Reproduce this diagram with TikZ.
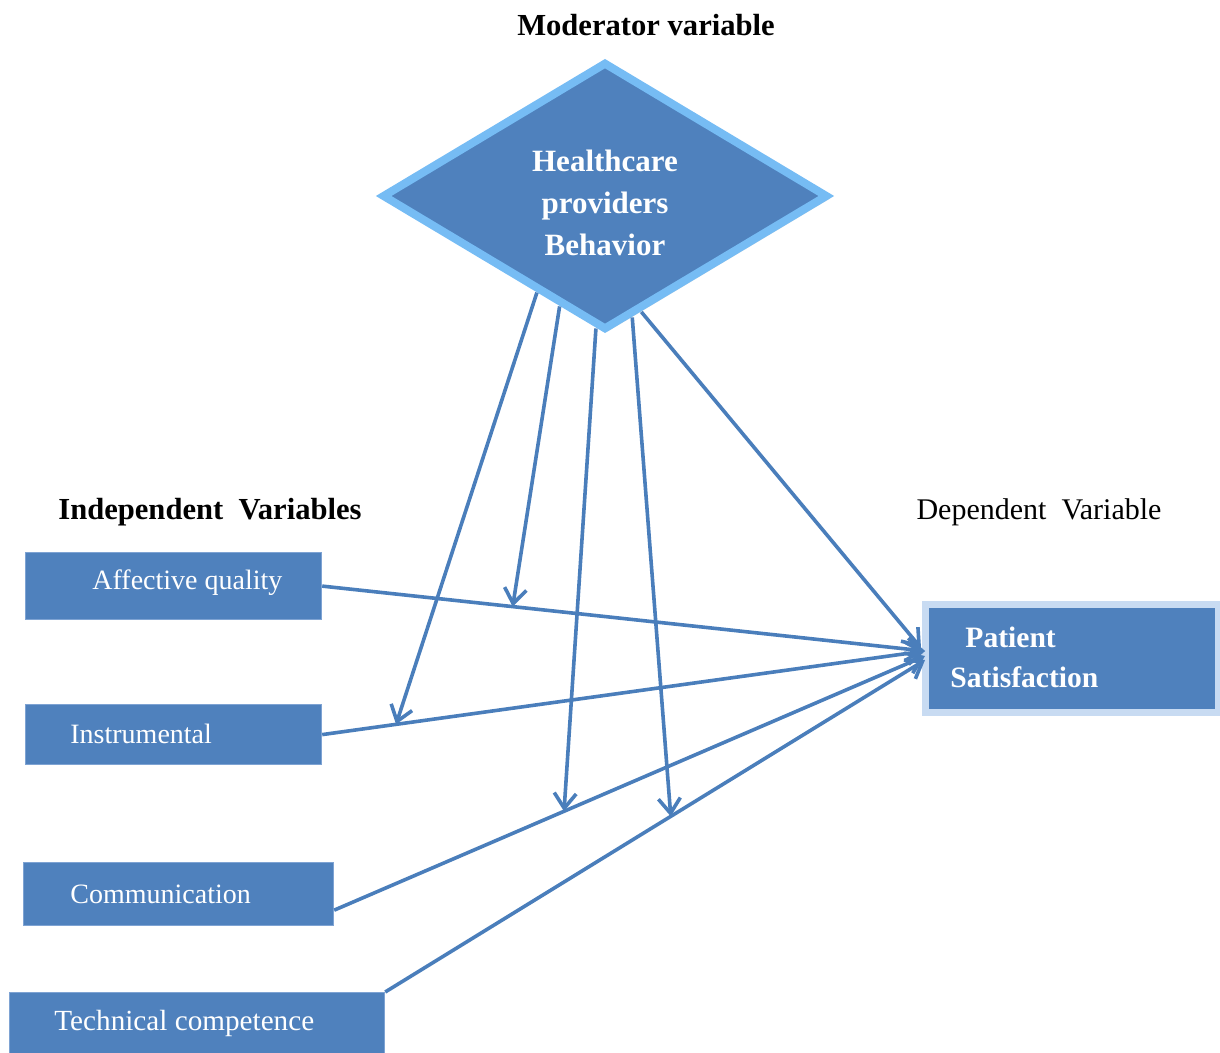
\documentclass[tikz,border=0pt]{standalone}
\usepackage{fontspec}
\setmainfont{Liberation Serif}
\usetikzlibrary{shapes.geometric,arrows.meta,calc,shadows}
\definecolor{BoxBlue}{HTML}{4F81BD}
\definecolor{LineBlue}{HTML}{4A7EBB}
\definecolor{RimBlue}{HTML}{76BCF4}
\definecolor{EdgeBlue}{HTML}{7EA3D3}
\definecolor{GlowBlue}{HTML}{C8DBF2}

\tikzset{
  varbox/.style={fill=BoxBlue, draw=EdgeBlue, line width=0.6pt, anchor=north west, inner sep=0pt},
  boxtext/.style={text=white, anchor=west, inner sep=0pt, font=\fontsize{14pt}{20pt}\selectfont},
  heading/.style={font=\fontsize{15.3pt}{18pt}\selectfont\bfseries},
  link/.style={-{Straight Barb[length=7.5pt,width=11pt,line width=1.8pt]}, line width=1.8pt, LineBlue}
}

\begin{document}
\begin{tikzpicture}[x=0.5pt, y=-0.5pt]
        \clip (0,0) rectangle (1220,1053);

        % moderator
        \node[heading] (modt) at (646,25) {Moderator variable};
        \node[diamond, fill=BoxBlue, draw=RimBlue, line width=4pt, minimum width=223pt,
          minimum height=134pt, inner sep=0pt,
          drop shadow={opacity=0.25, shadow xshift=1.5pt, shadow yshift=-1.5pt}]
          (hb) at (605,196) {};
        \node[text=white, align=center, font=\fontsize{15.5pt}{21pt}\selectfont\bfseries]
          (hbt) at (605,203) {Healthcare\\providers\\Behavior};

        % headings
        \node[heading] (ivt) at (210,512) {Independent\ \ Variables};
        \node[font=\fontsize{15pt}{18pt}\selectfont] (dvt) at (1039,512) {Dependent\ \ Variable};

        % independent variables
        \node[varbox, minimum width=148pt, minimum height=33.5pt] (aq) at (25,552) {};
        \node[boxtext] (aqt) at (92,583) {Affective quality};
        \node[varbox, minimum width=148pt, minimum height=30pt] (in) at (25,704) {};
        \node[boxtext] (int) at (70,734) {Instrumental};
        \node[varbox, minimum width=155pt, minimum height=31.5pt] (cm) at (23,862) {};
        \node[boxtext] (cmt) at (70,894) {Communication};
        \node[varbox, minimum width=187.5pt, minimum height=36pt] (tc) at (9,992) {};
        \node[boxtext, font=\fontsize{14.6pt}{20pt}\selectfont] (tct) at (54,1023) {Technical competence};

        % dependent variable
        \node[varbox, draw=GlowBlue, line width=3.5pt, outer sep=0pt, minimum width=146.5pt,
          minimum height=54pt] (ps) at (925,604) {};
        \node[boxtext, font=\fontsize{14.8pt}{20pt}\selectfont\bfseries, align=left]
          (pst) at (950,657) {\hspace*{7.5pt}Patient\\Satisfaction};

        % end points
        \coordinate (pAQ) at ([yshift=3.5pt]ps.west);
        \coordinate (pIN) at ([yshift=3.5pt]ps.west);
        \coordinate (pCM) at ([yshift=1pt]ps.west);
        \coordinate (pTC) at ([yshift=-1pt]ps.west);
        \coordinate (pHB) at ([xshift=-2pt,yshift=5pt]ps.west);
        \coordinate (cmout) at ($(cm.east)!0.5!(cm.south east)$);

        \draw[link] (aq.east) -- (pAQ);
        \draw[link] (in.east) -- (pIN);
        \draw[link] (cmout) -- (pCM);
        \draw[link] (tc.north east) -- (pTC);

        % moderating arrows
        \coordinate (mAQ) at ($(aq.east)!0.316!(pAQ)$);
        \coordinate (mIN) at ($(in.east)!0.1225!(pIN)$);
        \coordinate (mCM) at ($(cmout)!0.389!(pCM)$);
        \coordinate (mTC) at ($(tc.north east)!0.529!(pTC)$);
        \coordinate (s1) at ($(hb.west)!0.7!(hb.south)$);
        \coordinate (s2) at ($(hb.west)!0.8!(hb.south)$);
        \coordinate (s3) at ($(hb.west)!0.96!(hb.south)$);
        \coordinate (s4) at ($(hb.south)!0.12!(hb.east)$);
        \coordinate (s5) at ($(hb.south)!0.16!(hb.east)$);

        \draw[link] (s1) -- (mIN);
        \draw[link] (s2) -- (mAQ);
        \draw[link] (s3) -- (mCM);
        \draw[link] (s4) -- (mTC);
        \draw[link] (s5) -- (pHB);
      \end{tikzpicture}
\end{document}
